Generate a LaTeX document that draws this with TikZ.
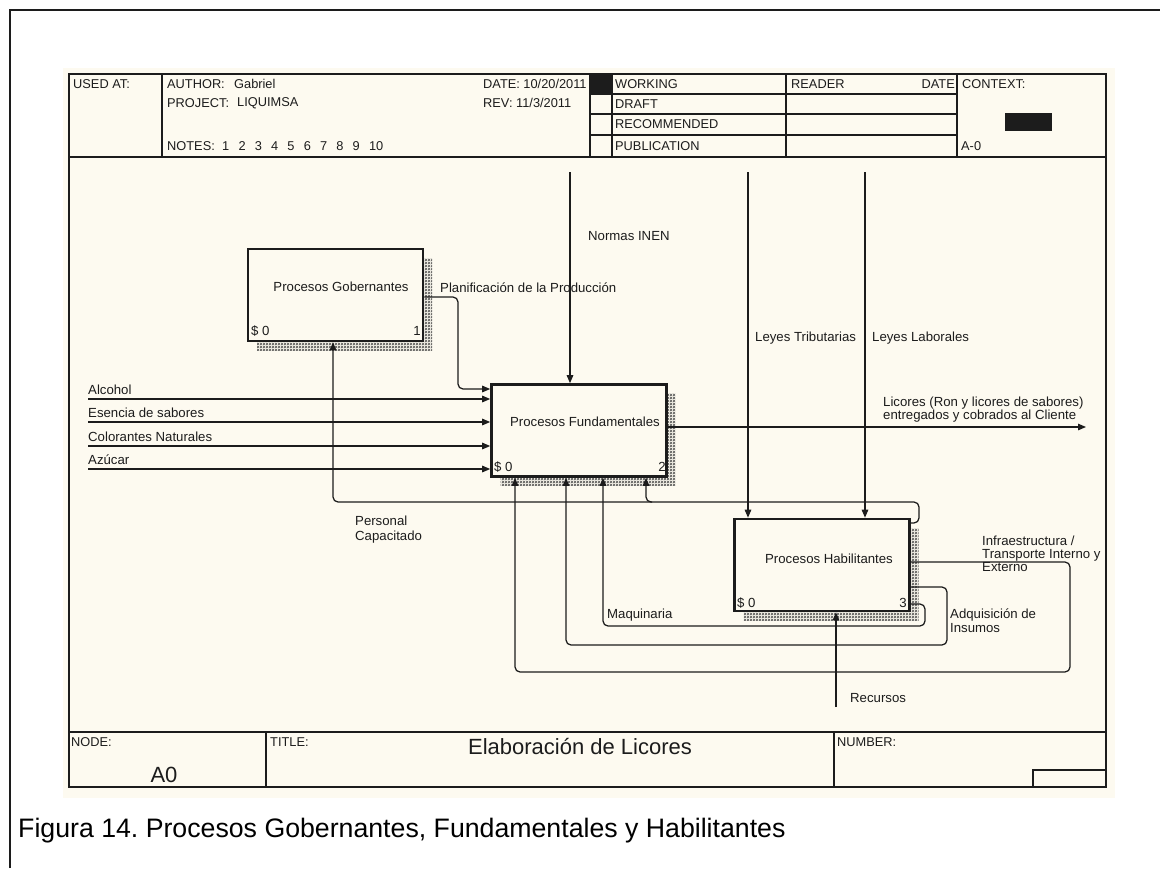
\documentclass[tikz,border=0pt]{standalone}
\usepackage{fontspec}
\setmainfont{Liberation Sans}
\usetikzlibrary{arrows.meta,patterns.meta,shadows}
\definecolor{paper}{RGB}{253,250,240}
\definecolor{ink}{RGB}{28,28,28}
\frenchspacing

% fine diagonal weave used for the box shadows
\tikzdeclarepattern{
  name=weave,
  type=uncolored,
  bottom left={(0pt,0pt)},
  top right={(2.6pt,2.6pt)},
  tile size={(2.6pt,2.6pt)},
  code={
    \pgfpathmoveto{\pgfpoint{0pt}{0pt}}\pgfpathlineto{\pgfpoint{2.6pt}{2.6pt}}
    \pgfpathmoveto{\pgfpoint{0pt}{2.6pt}}\pgfpathlineto{\pgfpoint{2.6pt}{0pt}}
    \pgfsetlinewidth{0.75pt}\pgfusepath{stroke}
  }
}

\begin{document}
\begin{tikzpicture}[x=1pt,y=-1pt,
  every node/.style={inner sep=0pt, text=ink},
  txt/.style={font=\fontsize{13.2}{14.5}\selectfont, anchor=west},
  htxt/.style={font=\fontsize{12.8}{14}\selectfont, anchor=west},
  frameline/.style={draw=ink, line width=1.3pt},
  flow/.style={draw=ink, line width=1.25pt, rounded corners=5pt, -{Triangle[length=8pt,width=6.5pt]}},
  procbox/.style={draw=ink, fill=paper, line width=2.6pt, minimum width=175pt, minimum height=92pt,
     drop shadow={shadow xshift=9pt, shadow yshift=-9pt, opacity=1, pattern={weave}, pattern color=black!70}},
]
\useasboundingbox (0,0) rectangle (1160,868);
\fill[white] (0,0) rectangle (1160,868);
% page border and sheet
\draw[ink, line width=2pt] (10,868) -- (10,10) -- (1160,10);
\fill[paper] (63,68) rectangle (1115,798);
\draw[frameline] (69,74) rectangle (1106,787);

% header block
\draw[frameline] (69,157) -- (1106,157);
\foreach \x in {162,590,612,786,957} \draw[frameline] (\x,74) -- (\x,157);
\foreach \y in {94,114,135} \draw[frameline] (590,\y) -- (957,\y);
\fill[ink] (590,74) rectangle (612,94);
\fill[ink] (1005,113) rectangle (1052,131);

\node[htxt] (usedat) at (73,84) {USED AT:};
\node[htxt] (author) at (167,84) {AUTHOR:};
\node[htxt] (authorv) at (234,84) {Gabriel};
\node[htxt] (project) at (167,103) {PROJECT:};
\node[htxt] (projectv) at (237,103) {LIQUIMSA};
\node[htxt] (notes) at (167,146) {NOTES:};
\node[htxt] (notesv) at (222,146) {1\hspace{9.2pt}2\hspace{9.2pt}3\hspace{9.2pt}4\hspace{9.2pt}5\hspace{9.2pt}6\hspace{9.2pt}7\hspace{9.2pt}8\hspace{9.2pt}9\hspace{9.2pt}10};
\node[htxt] (date) at (483,84) {DATE: 10/20/2011};
\node[htxt] (rev) at (483,103) {REV:};
\node[htxt] (revv) at (516,103) {11/3/2011};
\node[htxt] (working) at (615,84) {WORKING};
\node[htxt] (draft) at (615,104) {DRAFT};
\node[htxt] (recom) at (615,124.5) {RECOMMENDED};
\node[htxt] (public) at (615,146) {PUBLICATION};
\node[htxt] (reader) at (791,84) {READER};
\node[htxt, anchor=east] (rdate) at (955,84) {DATE};
\node[htxt] (context) at (962,84) {CONTEXT:};
\node[htxt] (ctxnode) at (961,146) {A-0};

% footer block
\draw[frameline] (69,732) -- (1106,732);
\draw[frameline] (266,732) -- (266,787);
\draw[frameline] (834,732) -- (834,787);
\draw[frameline] (1033,787) -- (1033,770) -- (1106,770);
\node[htxt] (nodelbl) at (71,742) {NODE:};
\node[htxt] (titlelbl) at (270,742) {TITLE:};
\node[htxt] (numberlbl) at (837,742) {NUMBER:};
\node[font=\fontsize{22}{24}\selectfont] (title) at (580,746) {Elaboración de Licores};
\node[font=\fontsize{22}{24}\selectfont] (nodeid) at (164,775) {A0};

% activity boxes
\node[procbox] (b1) at (335.5,295) {};
\node[procbox] (b2) at (579,430.5) {};
\node[procbox] (b3) at (822,565) {};
\node[txt, anchor=center] (b1t) at (341,287) {Procesos Gobernantes};
\node[txt] (b1s) at (251,331) {\$ 0};
\node[txt, anchor=east] (b1n) at (421,331) {1};
\node[txt, anchor=center] (b2t) at (585,422) {Procesos Fundamentales};
\node[txt] (b2s) at (494,467) {\$ 0};
\node[txt, anchor=east] (b2n) at (666,467) {2};
\node[txt, anchor=center] (b3t) at (829,559) {Procesos Habilitantes};
\node[txt] (b3s) at (737,603) {\$ 0};
\node[txt, anchor=east] (b3n) at (907,603) {3};

% controls
\coordinate (cN) at (570,172);
\draw[flow] (cN) -- (cN |- b2.north);
\node[txt] (cNt) at (588,236) {Normas INEN};
\coordinate (cLT) at (748,172);
\draw[flow] (cLT) -- (cLT |- b3.north);
\node[txt] (cLTt) at (755,338) {Leyes Tributarias};
\coordinate (cLL) at (865,172);
\draw[flow] (cLL) -- (cLL |- b3.north);
\node[txt] (cLLt) at (872,338) {Leyes Laborales};

% planning output of box 1 into box 2
\coordinate (plA) at (458,297);
\coordinate (plB) at (458,389);
\draw[flow] (b1.east |- plA) -- (plA) -- (plB) -- (b2.west |- plB);
\node[txt] (plt) at (440,288) {Planificación de la Producción};

% inputs
\foreach \n/\y/\t in {in1/399/Alcohol, in2/422/Esencia de sabores, in3/446/Colorantes Naturales, in4/469/Azúcar}{
  \coordinate (\n) at (88,\y);
  \draw[flow] (\n) -- (b2.west |- \n);
  \node[txt] (\n-t) at (88,\y-9) {\t};
}

% output
\coordinate (outE) at (1086,427);
\draw[flow] (b2.east |- outE) -- (outE);
\node[txt] (outt1) at (883,403) {Licores (Ron y licores de sabores)};
\node[txt] (outt2) at (883,416) {entregados y cobrados al Cliente};

% trained staff
\coordinate (pcA) at (919,523);
\coordinate (pcB) at (919,502);
\coordinate (pcC) at (333,502);
\coordinate (pcD) at (646,502);
\draw[flow] (b3.east |- pcA) -- (pcA) -- (pcB) -- (pcC) -- (pcC |- b1.south);
\draw[flow] ([xshift=6pt]pcD) -| (pcD |- b2.south);
\node[txt, align=left, font=\fontsize{13.2}{15}\selectfont] (pct) at (355,530) {Personal\\Capacitado};

% infrastructure
\coordinate (ifA) at (1070,562);
\coordinate (ifB) at (1070,672);
\coordinate (ifC) at (515,672);
\draw[flow] (b3.east |- ifA) -- (ifA) -- (ifB) -- (ifC) -- (ifC |- b2.south);
\node[txt, align=left, anchor=north west, font=\fontsize{13.2}{13}\selectfont] (ift) at (982,536) {Infraestructura /\\Transporte Interno y\\Externo};

% supplies
\coordinate (aqA) at (947,587);
\coordinate (aqB) at (947,645);
\coordinate (aqC) at (566,645);
\draw[flow] (b3.east |- aqA) -- (aqA) -- (aqB) -- (aqC) -- (aqC |- b2.south);
\node[txt, align=left, anchor=north west, font=\fontsize{13.2}{14}\selectfont] (aqt) at (950,609) {Adquisición de\\Insumos};

% machinery
\coordinate (mqA) at (925,604);
\coordinate (mqB) at (925,626);
\coordinate (mqC) at (603,626);
\draw[flow] (b3.east |- mqA) -- (mqA) -- (mqB) -- (mqC) -- (mqC |- b2.south);
\node[txt] (mqt) at (607,615) {Maquinaria};

% resources
\coordinate (rc) at (836,707);
\draw[flow] (rc) -- (rc |- b3.south);
\node[txt] (rct) at (850,698) {Recursos};

% caption
\node[anchor=west, font=\fontsize{26.7}{30}\selectfont, text=black] (caption) at (18,831) {Figura 14. Procesos Gobernantes, Fundamentales y Habilitantes};
\end{tikzpicture}
\end{document}
